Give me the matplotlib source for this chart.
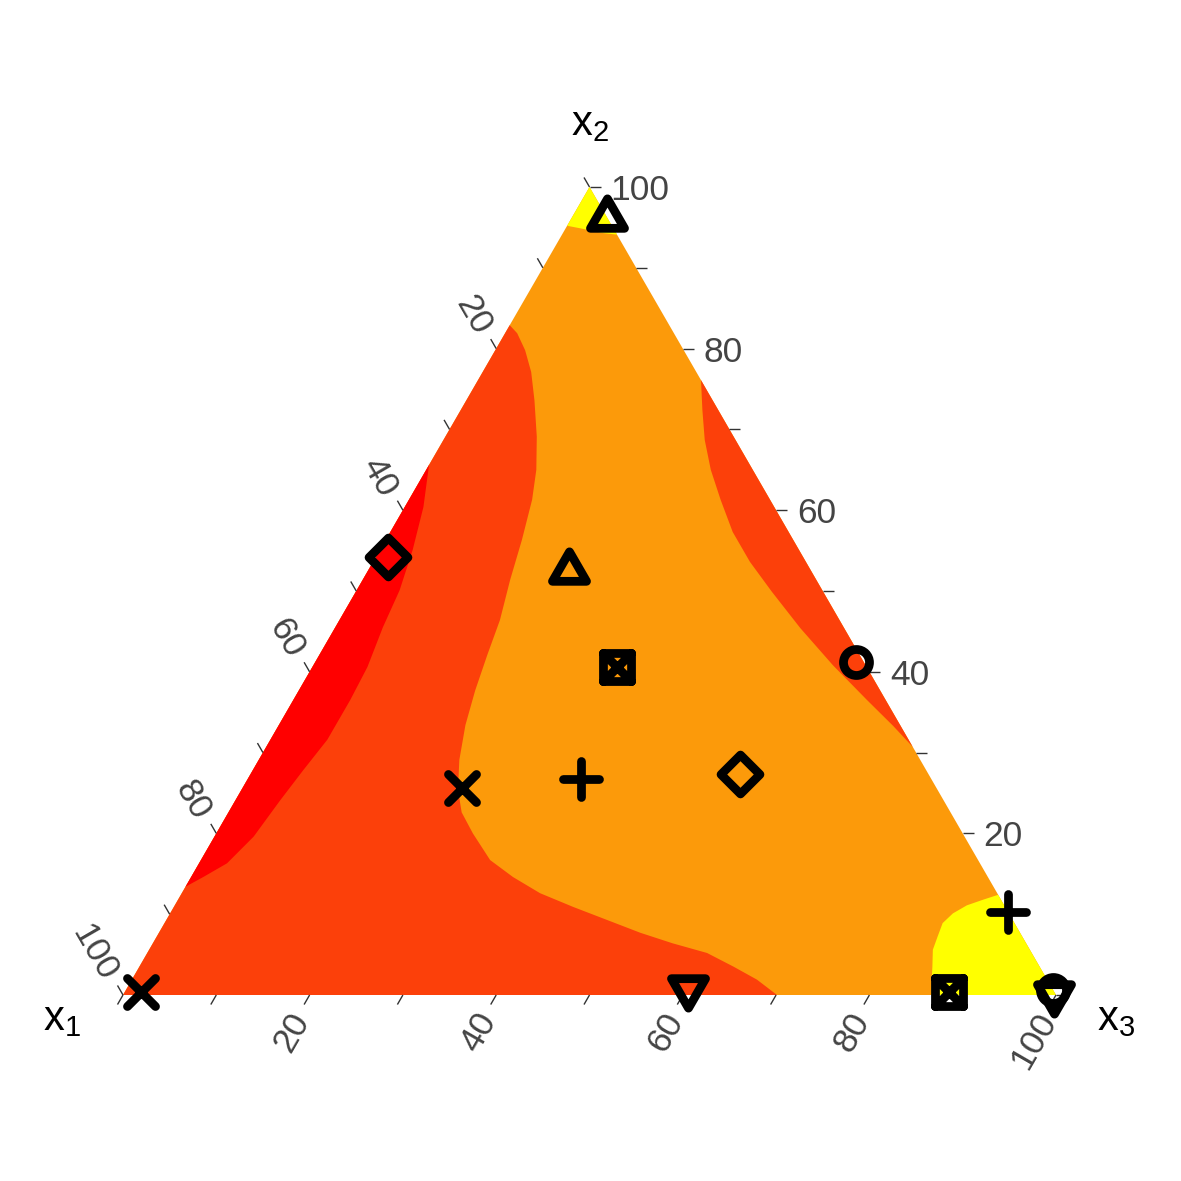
import numpy as np
import matplotlib
matplotlib.use("Agg")
import matplotlib.pyplot as plt
from matplotlib.path import Path
from matplotlib.markers import MarkerStyle

plt.rcParams["font.family"] = ["Liberation Sans", "DejaVu Sans"]
plt.rcParams["mathtext.fontset"] = "custom"
plt.rcParams["mathtext.rm"] = "Liberation Sans"
plt.rcParams["mathtext.it"] = "Liberation Sans"

# ---- points, compositions in percent (x1, x2, x3) ----
pt_x1 = [0.8, 0.0, 0.0, 26.0, 37.6, 0.0, 97.9, 50.9, 44.5, 20.2, 39.0, 0.2, 26.8, 11.3]
pt_x2 = [41.2, 0.6, 96.2, 52.5, 26.7, 10.3, 0.4, 25.6, 54.2, 27.4, 0.9, 0.1, 40.6, 0.4]
pt_x3 = [58.0, 99.4, 3.8, 21.5, 35.7, 89.7, 1.7, 23.5, 1.3, 52.4, 60.1, 99.7, 32.6, 88.3]
pt_pch = [1, 1, 2, 2, 3, 3, 4, 4, 5, 5, 6, 6, 7, 7]

# ---- contour band boundaries, read as (x2, x3) in percent ----
# red strip along the x1-x2 edge
red_x2 = [65.6, 60.4, 55.1, 50.1, 45.5, 40.6, 36.5, 31.6, 27.8, 24.1, 19.6, 16.3, 14.6, 13.4]
red_x3 = [0.0, 2.0, 3.5, 4.6, 5.1, 5.9, 6.1, 6.1, 5.4, 4.8, 4.2, 3.0, 1.3, 0.0]

# orange-red band around the x1 corner
ored_x2 = [82.9, 81.9, 79.8, 77.1, 73.6, 69.1, 65.0, 61.3, 56.3, 51.4, 46.4, 42.1, 37.7, 33.4,
           29.1, 25.4, 22.6, 20.0, 16.7, 14.6, 12.6, 10.9, 9.3, 7.7, 6.4, 5.2, 3.5, 1.9, 0.0]
ored_x3 = [0.0, 1.3, 3.2, 5.2, 7.3, 9.8, 11.8, 13.2, 14.6, 15.8, 17.2, 18.0, 18.9, 20.0,
           21.5, 23.2, 25.0, 27.5, 31.0, 34.5, 38.4, 42.8, 47.2, 51.6, 55.7, 60.0, 63.7, 67.0, 70.1]

# orange-red band along the x2-x3 edge
ored2_x2 = [76.1, 72.4, 68.7, 65.0, 61.3, 57.3, 53.6, 49.9, 45.4, 40.8, 36.5, 33.3, 30.7]
ored2_x3 = [23.9, 25.9, 28.0, 30.5, 33.4, 36.7, 40.4, 44.6, 49.9, 55.7, 61.5, 65.9, 69.3]

# yellow caps at the x2 and x3 corners
ytop_x2 = [95.2, 94.9, 94.3, 94.1]
ytop_x3 = [0.0, 1.5, 4.3, 5.9]
ybr_x2 = [12.4, 11.8, 11.1, 10.1, 8.9, 7.2, 5.6, 3.5, 0.0]
ybr_x3 = [87.6, 86.3, 84.9, 83.9, 83.4, 83.7, 84.0, 85.0, 86.6]

band_colors = ["#FF0000", "#FC400A", "#FC9A0A", "#FFFF00"]

tick_values = list(range(0, 101, 10))
label_values = [20, 40, 60, 80, 100]

SQ3 = np.sqrt(3) / 2
PX = 1 / 933.0  # one pixel in data units


def to_xy(x1, x2, x3):
    x1, x2, x3 = (np.asarray(v, dtype=float) for v in (x1, x2, x3))
    s = x1 + x2 + x3
    return (x3 + x2 / 2) / s, x2 * SQ3 / s


def band(ax, x2s, x3s, color, corner=None):
    x2s = list(x2s)
    x3s = list(x3s)
    if corner is not None:
        x2s.append(corner[0])
        x3s.append(corner[1])
    x1s = [100 - a - b for a, b in zip(x2s, x3s)]
    x, y = to_xy(x1s, x2s, x3s)
    ax.fill(x, y, color=color, lw=0, zorder=1)


def pch_marker(pch):
    M, L, C = Path.MOVETO, Path.LINETO, Path.CLOSEPOLY
    h = np.sqrt(3) / 2
    if pch == 1:
        p = Path.unit_circle()
    elif pch == 2:
        p = Path([(0, 1), (h, -0.5), (-h, -0.5), (0, 1)], [M, L, L, C])
    elif pch == 6:
        p = Path([(0, -1), (h, 0.5), (-h, 0.5), (0, -1)], [M, L, L, C])
    elif pch == 3:
        p = Path([(-1, 0), (1, 0), (0, -1), (0, 1)], [M, L, M, L])
    elif pch == 4:
        p = Path([(-1, -1), (1, 1), (-1, 1), (1, -1)], [M, L, M, L])
    elif pch == 5:
        p = Path([(0, 1), (1, 0), (0, -1), (-1, 0), (0, 1)], [M, L, L, L, C])
    else:
        p = Path([(-1, -1), (1, -1), (1, 1), (-1, 1), (-1, -1),
                  (-1, -1), (1, 1), (-1, 1), (1, -1)],
                 [M, L, L, L, C, M, L, M, L])
    return MarkerStyle(p, joinstyle="round", capstyle="round")


pch_size = {1: 18.7, 2: 28.3, 3: 26.6, 4: 20.2, 5: 28.0, 6: 28.3, 7: 20.2}

fig = plt.figure(figsize=(11.81, 11.81), dpi=100)
ax = fig.add_axes([0, 0, 1, 1])
ax.set_xlim(-123 * PX, 1058 * PX)
ax.set_ylim(-186 * PX, 995 * PX)
ax.axis("off")

# filled contour bands
band(ax, [0, 100, 0], [0, 0, 100], band_colors[2])
band(ax, ored_x2, ored_x3, band_colors[1], corner=(0, 0))
band(ax, red_x2, red_x3, band_colors[0])
band(ax, ored2_x2, ored2_x3, band_colors[1])
band(ax, ytop_x2, ytop_x3, band_colors[3], corner=(100, 0))
band(ax, ybr_x2, ybr_x3, band_colors[3], corner=(0, 100))

# axis ticks and labels
tick_len = 11 * PX
lab_off = 21 * PX
axes_spec = [
    # edge point for value v, outward direction, rotation, ha
    (lambda v: to_xy(v, 100 - v, 0), (-0.5, SQ3), -60, "right"),
    (lambda v: to_xy(100 - v, 0, v), (-0.5, -SQ3), 60, "right"),
    (lambda v: to_xy(0, v, 100 - v), (1.0, 0.0), 0, "left"),
]
for edge_pt, (dx, dy), rot, ha in axes_spec:
    for v in tick_values:
        x0, y0 = edge_pt(v)
        ax.plot([x0, x0 + dx * tick_len], [y0, y0 + dy * tick_len],
                color="#333333", lw=1.0, zorder=2, solid_capstyle="butt")
    for v in label_values:
        x0, y0 = edge_pt(v)
        ax.text(x0 + dx * lab_off, y0 + dy * lab_off, str(v), fontsize=25.5,
                color="#444444", rotation=rot, rotation_mode="anchor",
                ha=ha, va="center_baseline", zorder=4)

# corner labels
ax.text(-61.5 * PX, -35 * PX, r"$\mathregular{x_1}$", fontsize=30,
        ha="center", va="baseline", color="black")
ax.text(0.5, SQ3 + 52 * PX, r"$\mathregular{x_2}$", fontsize=30,
        ha="center", va="baseline", color="black")
ax.text(1 + 60.5 * PX, -35 * PX, r"$\mathregular{x_3}$", fontsize=30,
        ha="center", va="baseline", color="black")

# points
px, py = to_xy(pt_x1, pt_x2, pt_x3)
for x, y, pch in zip(px, py, pt_pch):
    ax.plot([x], [y], linestyle="none", marker=pch_marker(pch),
            markersize=pch_size[pch], markerfacecolor="none",
            markeredgecolor="black", markeredgewidth=6.3, zorder=3,
            clip_on=False)

fig.savefig("out.png", dpi=100)
